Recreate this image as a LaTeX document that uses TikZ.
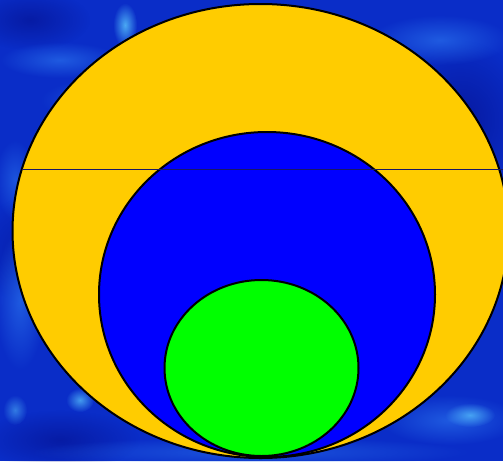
\documentclass[tikz,border=0pt]{standalone}
\usetikzlibrary{fadings}
\tikzfading[name=fuzzy, inner color=transparent!0, outer color=transparent!100]
\definecolor{seabase}{RGB}{10,45,200}
\definecolor{seadark}{RGB}{5,20,150}
\definecolor{sealight}{RGB}{40,110,235}
\definecolor{seacyan}{RGB}{90,200,255}
\definecolor{gold}{RGB}{255,204,0}
\definecolor{navy}{RGB}{25,25,100}
\tikzset{
  disc/.style={draw=black, line width=2pt},
  blob/.style={path fading=fuzzy},
}
\begin{document}
\begin{tikzpicture}[x=1pt,y=-1pt]
\useasboundingbox (0,0) rectangle (503,461);
\begin{scope}
\clip (0,0) rectangle (503,461);
\fill[seabase] (0,0) rectangle (503,461);
% background texture
\fill[seadark, blob, opacity=0.8] (60,250) ellipse (90 and 60);
\fill[seadark, blob, opacity=0.8] (460,120) ellipse (70 and 80);
\fill[seadark, blob, opacity=0.7] (30,20) ellipse (60 and 30);
\fill[seadark, blob, opacity=0.7] (60,440) ellipse (80 and 30);
\fill[sealight, blob, opacity=0.8] (130,100) ellipse (90 and 25);
\fill[sealight, blob, opacity=0.7] (60,60) ellipse (60 and 18);
\fill[sealight, blob, opacity=0.7] (200,40) ellipse (60 and 15);
\fill[sealight, blob, opacity=0.7] (20,300) ellipse (25 and 70);
\fill[sealight, blob, opacity=0.6] (15,180) ellipse (20 and 40);
\fill[sealight, blob, opacity=0.7] (440,40) ellipse (70 and 25);
\fill[sealight, blob, opacity=0.7] (450,420) ellipse (70 and 25);
\fill[sealight, blob, opacity=0.6] (250,452) ellipse (220 and 15);
\fill[seacyan, blob, opacity=0.8] (125,25) ellipse (12 and 22);
\fill[seacyan, blob, opacity=0.7] (80,400) ellipse (14 and 12);
\fill[seacyan, blob, opacity=0.7] (470,415) ellipse (25 and 12);
\fill[seacyan, blob, opacity=0.5] (15,410) ellipse (12 and 15);
% ellipses
\filldraw[disc, fill=gold] (260.5,231) ellipse (248 and 227);
\filldraw[disc, fill=blue] (267,294.5) ellipse (168 and 162.5);
\filldraw[disc, fill=green] (261.5,368) ellipse (97 and 88);
% horizontal line
\coordinate (lineL) at (21.5,169.3);
\coordinate (lineR) at (510,169.3);
\draw[navy, line width=0.9pt] (lineL) -- (lineR);
\end{scope}
\end{tikzpicture}
\end{document}
